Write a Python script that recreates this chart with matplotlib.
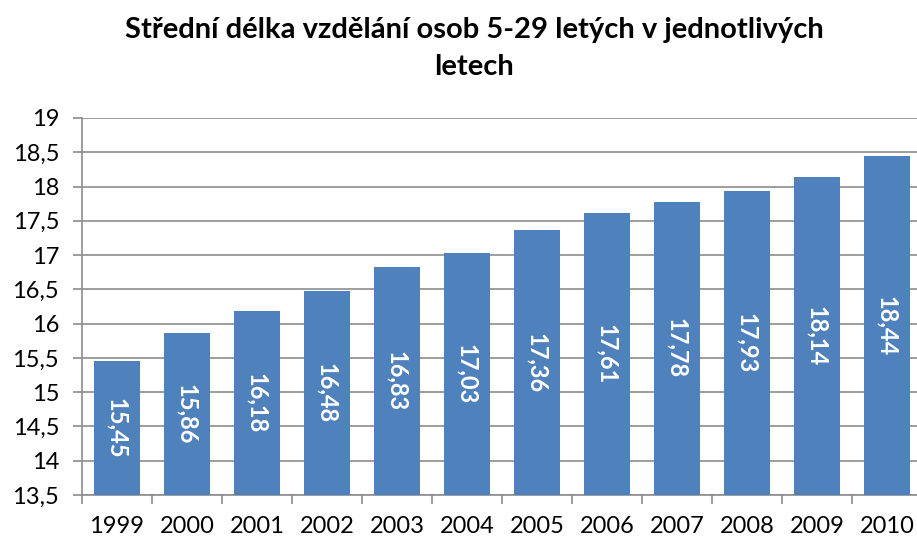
import numpy as np
import matplotlib
matplotlib.use("Agg")
import matplotlib.pyplot as plt

# data
years = ["1999", "2000", "2001", "2002", "2003", "2004",
         "2005", "2006", "2007", "2008", "2009", "2010"]
values = [15.45, 15.86, 16.18, 16.48, 16.83, 17.03,
          17.36, 17.61, 17.78, 17.93, 18.14, 18.44]
yticks = [13.5, 14, 14.5, 15, 15.5, 16, 16.5, 17, 17.5, 18, 18.5, 19]

plt.rcParams['font.family'] = ['Lato', 'DejaVu Sans']

fig = plt.figure(figsize=(9.17, 5.41), dpi=100)
# the plot area runs a little past the right edge, like the cropped original
ax = fig.add_axes([0.0894, 0.0850, 0.9160, 0.6969])

x = np.arange(len(years))
bars = ax.bar(x, values, width=0.67, color='#4F81BD', zorder=3)

for xi, v in zip(x, values):
    ax.text(xi, (13.5 + v) / 2, f"{v:.2f}".replace('.', ','),
            rotation=-90, ha='center', va='center', color='white',
            fontsize=17, fontweight='bold', zorder=4)

ax.set_xlim(-0.5, len(years) - 0.5)
ax.set_ylim(13.5, 19)
ax.set_yticks(yticks)
ax.set_yticklabels([f"{t:g}".replace('.', ',') for t in yticks])
ax.yaxis.grid(True, color='#8C8C8C', linewidth=1.2, zorder=0)

ax.set_xticks(x)
ax.set_xticklabels(years)
ax.set_xticks(np.arange(len(years) + 1) - 0.5, minor=True)
ax.tick_params(axis='x', which='major', length=0, pad=15, labelsize=17)
ax.tick_params(axis='x', which='minor', length=6.5, width=1.2, color='#8C8C8C', direction='out')
ax.tick_params(axis='y', length=6.5, width=1.2, color='#8C8C8C', labelsize=17, pad=10)

for side in ['top', 'right']:
    ax.spines[side].set_visible(False)
for side in ['left', 'bottom']:
    ax.spines[side].set_color('#8C8C8C')
    ax.spines[side].set_linewidth(1.2)

fig.text(0.517, 0.910, "Střední délka vzdělání osob 5-29 letých v jednotlivých\nletech",
         ha='center', va='center', fontsize=21, fontweight='bold',
         linespacing=1.5)

fig.savefig("out.png", dpi=100)
